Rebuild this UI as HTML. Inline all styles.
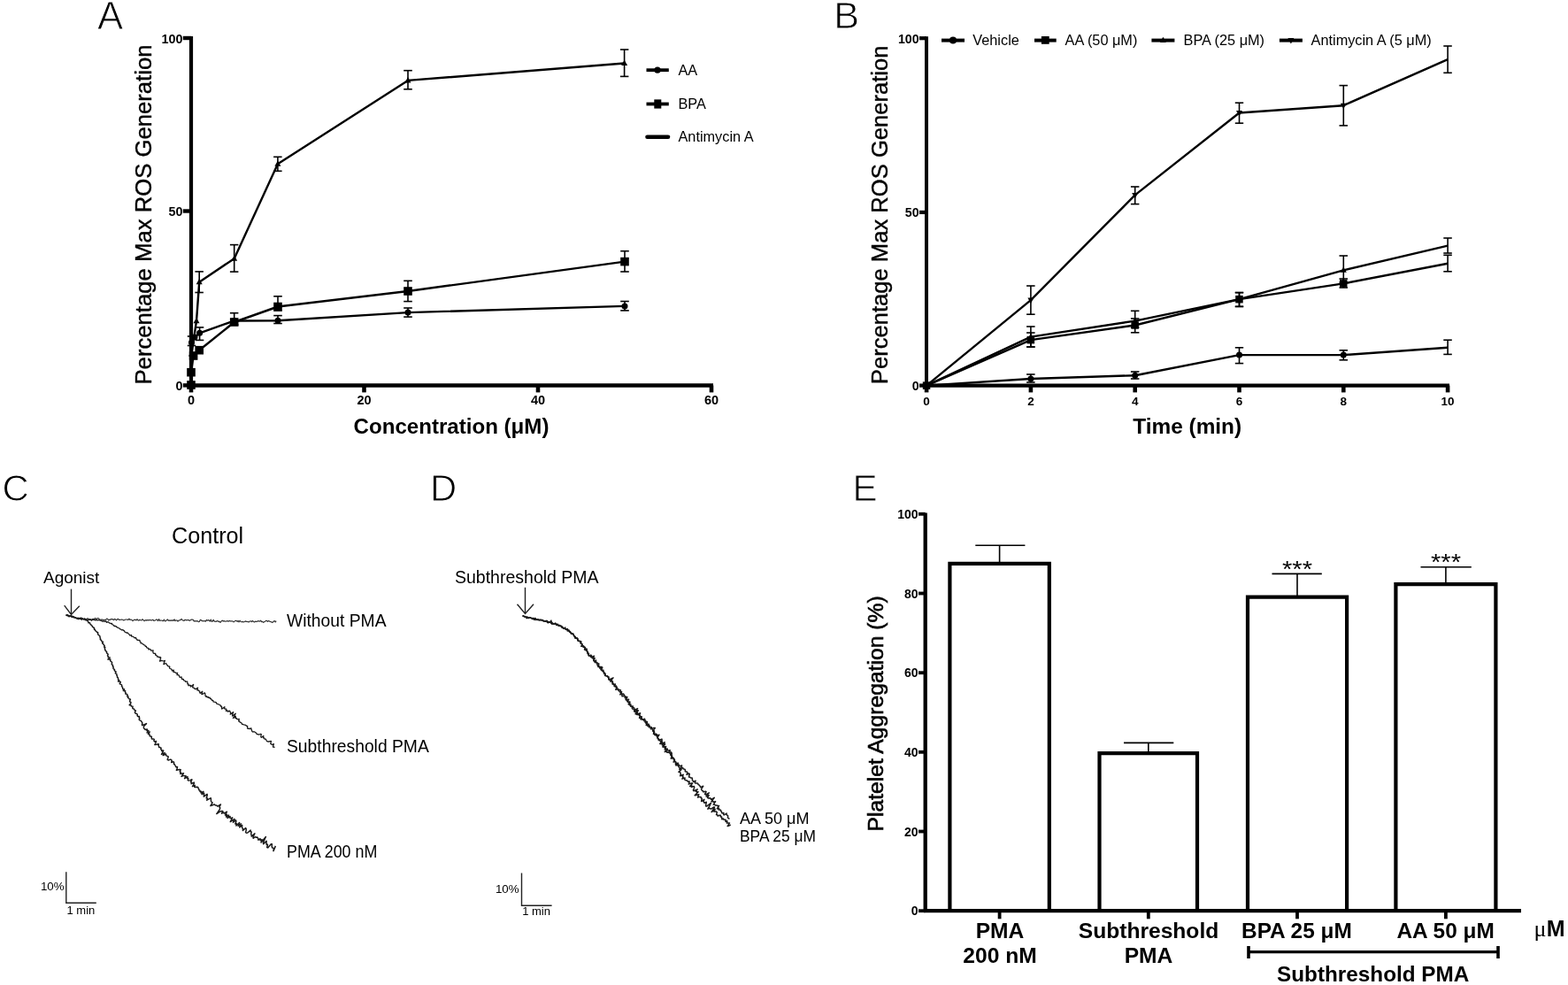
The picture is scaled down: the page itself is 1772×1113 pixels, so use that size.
<!DOCTYPE html>
<html><head><meta charset="utf-8"><title>Figure</title>
<style>html,body{margin:0;padding:0;background:#fff;width:1772px;height:1113px;overflow:hidden}svg{display:block}text{fill:#000}</style>
</head><body>
<svg width="1772" height="1113" viewBox="0 0 1772 1113"><text x="110" y="32.5" font-family="'Liberation Sans', Arial, Helvetica, sans-serif" font-size="43.8" font-weight="normal" text-anchor="start" stroke="#fff" stroke-width="0.9">A</text>
<line x1="216" y1="41" x2="216" y2="437.5" stroke="#000" stroke-width="4.2" stroke-linecap="butt"/>
<line x1="206.8" y1="43" x2="216" y2="43" stroke="#000" stroke-width="4.4" stroke-linecap="butt"/>
<line x1="206.8" y1="238.5" x2="216" y2="238.5" stroke="#000" stroke-width="4.4" stroke-linecap="butt"/>
<line x1="206.8" y1="435.4" x2="216" y2="435.4" stroke="#000" stroke-width="4.4" stroke-linecap="butt"/>
<line x1="214" y1="435.5" x2="806" y2="435.5" stroke="#000" stroke-width="4.4" stroke-linecap="butt"/>
<line x1="216" y1="435.5" x2="216" y2="443.4" stroke="#000" stroke-width="4.6" stroke-linecap="butt"/>
<line x1="411.5" y1="435.5" x2="411.5" y2="443.4" stroke="#000" stroke-width="4.6" stroke-linecap="butt"/>
<line x1="608" y1="435.5" x2="608" y2="443.4" stroke="#000" stroke-width="4.6" stroke-linecap="butt"/>
<line x1="804" y1="435.5" x2="804" y2="443.4" stroke="#000" stroke-width="4.6" stroke-linecap="butt"/>
<text x="206.5" y="48.8" font-family="'Liberation Sans', Arial, Helvetica, sans-serif" font-size="14.4" font-weight="bold" text-anchor="end">100</text>
<text x="206.5" y="244.3" font-family="'Liberation Sans', Arial, Helvetica, sans-serif" font-size="14.4" font-weight="bold" text-anchor="end">50</text>
<text x="206.5" y="441.2" font-family="'Liberation Sans', Arial, Helvetica, sans-serif" font-size="14.4" font-weight="bold" text-anchor="end">0</text>
<text x="216" y="456.9" font-family="'Liberation Sans', Arial, Helvetica, sans-serif" font-size="14.5" font-weight="bold" text-anchor="middle">0</text>
<text x="411.5" y="456.9" font-family="'Liberation Sans', Arial, Helvetica, sans-serif" font-size="14.5" font-weight="bold" text-anchor="middle">20</text>
<text x="608" y="456.9" font-family="'Liberation Sans', Arial, Helvetica, sans-serif" font-size="14.5" font-weight="bold" text-anchor="middle">40</text>
<text x="804" y="456.9" font-family="'Liberation Sans', Arial, Helvetica, sans-serif" font-size="14.5" font-weight="bold" text-anchor="middle">60</text>
<text x="510" y="489.8" font-family="'Liberation Sans', Arial, Helvetica, sans-serif" font-size="24.1" font-weight="bold" text-anchor="middle">Concentration (&#956;M)</text>
<text x="171.2" y="242.5" font-family="'Liberation Sans', Arial, Helvetica, sans-serif" font-size="25.7" font-weight="normal" text-anchor="middle" transform="rotate(-90 171.2 242.5)" stroke="#000" stroke-width="0.4">Percentage Max ROS Generation</text>
<polyline points="216,435 216.5,400 222,362.8 225.2,318.8 264.7,292.2 313.9,185.2 461,90.9 705.6,71.5" fill="none" stroke="#000" stroke-width="2.4" stroke-linejoin="round"/>
<polyline points="216,435 216,420.7 218.6,402 225.2,395.7 264.7,364 314,346.5 461,329 706,295.6" fill="none" stroke="#000" stroke-width="2.4" stroke-linejoin="round"/>
<polyline points="216,435 216.5,387 220,381 225.6,376.3 264.7,362.5 314,362.3 461,353.1 706,345.9" fill="none" stroke="#000" stroke-width="2.4" stroke-linejoin="round"/>
<line x1="225.2" y1="306.9" x2="225.2" y2="330.5" stroke="#000" stroke-width="1.6" stroke-linecap="butt"/>
<line x1="220.4" y1="306.9" x2="229.9" y2="306.9" stroke="#000" stroke-width="1.6" stroke-linecap="butt"/>
<line x1="220.4" y1="330.5" x2="229.9" y2="330.5" stroke="#000" stroke-width="1.6" stroke-linecap="butt"/>
<line x1="264.7" y1="276.6" x2="264.7" y2="307.1" stroke="#000" stroke-width="1.6" stroke-linecap="butt"/>
<line x1="259.9" y1="276.6" x2="269.4" y2="276.6" stroke="#000" stroke-width="1.6" stroke-linecap="butt"/>
<line x1="259.9" y1="307.1" x2="269.4" y2="307.1" stroke="#000" stroke-width="1.6" stroke-linecap="butt"/>
<line x1="313.9" y1="177.3" x2="313.9" y2="193.3" stroke="#000" stroke-width="1.6" stroke-linecap="butt"/>
<line x1="309.1" y1="177.3" x2="318.6" y2="177.3" stroke="#000" stroke-width="1.6" stroke-linecap="butt"/>
<line x1="309.1" y1="193.3" x2="318.6" y2="193.3" stroke="#000" stroke-width="1.6" stroke-linecap="butt"/>
<line x1="461" y1="79.7" x2="461" y2="100.8" stroke="#000" stroke-width="1.6" stroke-linecap="butt"/>
<line x1="456.2" y1="79.7" x2="465.8" y2="79.7" stroke="#000" stroke-width="1.6" stroke-linecap="butt"/>
<line x1="456.2" y1="100.8" x2="465.8" y2="100.8" stroke="#000" stroke-width="1.6" stroke-linecap="butt"/>
<line x1="705.6" y1="56" x2="705.6" y2="86.4" stroke="#000" stroke-width="1.6" stroke-linecap="butt"/>
<line x1="700.9" y1="56" x2="710.4" y2="56" stroke="#000" stroke-width="1.6" stroke-linecap="butt"/>
<line x1="700.9" y1="86.4" x2="710.4" y2="86.4" stroke="#000" stroke-width="1.6" stroke-linecap="butt"/>
<line x1="264.7" y1="353.7" x2="264.7" y2="367" stroke="#000" stroke-width="1.6" stroke-linecap="butt"/>
<line x1="259.9" y1="353.7" x2="269.4" y2="353.7" stroke="#000" stroke-width="1.6" stroke-linecap="butt"/>
<line x1="259.9" y1="367" x2="269.4" y2="367" stroke="#000" stroke-width="1.6" stroke-linecap="butt"/>
<line x1="314" y1="334.8" x2="314" y2="351" stroke="#000" stroke-width="1.6" stroke-linecap="butt"/>
<line x1="309.2" y1="334.8" x2="318.8" y2="334.8" stroke="#000" stroke-width="1.6" stroke-linecap="butt"/>
<line x1="309.2" y1="351" x2="318.8" y2="351" stroke="#000" stroke-width="1.6" stroke-linecap="butt"/>
<line x1="461" y1="317.3" x2="461" y2="340.6" stroke="#000" stroke-width="1.6" stroke-linecap="butt"/>
<line x1="456.2" y1="317.3" x2="465.8" y2="317.3" stroke="#000" stroke-width="1.6" stroke-linecap="butt"/>
<line x1="456.2" y1="340.6" x2="465.8" y2="340.6" stroke="#000" stroke-width="1.6" stroke-linecap="butt"/>
<line x1="706" y1="283.7" x2="706" y2="307" stroke="#000" stroke-width="1.6" stroke-linecap="butt"/>
<line x1="701.2" y1="283.7" x2="710.8" y2="283.7" stroke="#000" stroke-width="1.6" stroke-linecap="butt"/>
<line x1="701.2" y1="307" x2="710.8" y2="307" stroke="#000" stroke-width="1.6" stroke-linecap="butt"/>
<line x1="216.5" y1="380" x2="216.5" y2="390.5" stroke="#000" stroke-width="1.6" stroke-linecap="butt"/>
<line x1="211.8" y1="380" x2="221.2" y2="380" stroke="#000" stroke-width="1.6" stroke-linecap="butt"/>
<line x1="211.8" y1="390.5" x2="221.2" y2="390.5" stroke="#000" stroke-width="1.6" stroke-linecap="butt"/>
<line x1="225.6" y1="369.9" x2="225.6" y2="384.4" stroke="#000" stroke-width="1.6" stroke-linecap="butt"/>
<line x1="220.8" y1="369.9" x2="230.3" y2="369.9" stroke="#000" stroke-width="1.6" stroke-linecap="butt"/>
<line x1="220.8" y1="384.4" x2="230.3" y2="384.4" stroke="#000" stroke-width="1.6" stroke-linecap="butt"/>
<line x1="314" y1="356.6" x2="314" y2="365.5" stroke="#000" stroke-width="1.6" stroke-linecap="butt"/>
<line x1="309.2" y1="356.6" x2="318.8" y2="356.6" stroke="#000" stroke-width="1.6" stroke-linecap="butt"/>
<line x1="309.2" y1="365.5" x2="318.8" y2="365.5" stroke="#000" stroke-width="1.6" stroke-linecap="butt"/>
<line x1="461" y1="348" x2="461" y2="358.1" stroke="#000" stroke-width="1.6" stroke-linecap="butt"/>
<line x1="456.2" y1="348" x2="465.8" y2="348" stroke="#000" stroke-width="1.6" stroke-linecap="butt"/>
<line x1="456.2" y1="358.1" x2="465.8" y2="358.1" stroke="#000" stroke-width="1.6" stroke-linecap="butt"/>
<line x1="706" y1="340.5" x2="706" y2="350.9" stroke="#000" stroke-width="1.6" stroke-linecap="butt"/>
<line x1="701.2" y1="340.5" x2="710.8" y2="340.5" stroke="#000" stroke-width="1.6" stroke-linecap="butt"/>
<line x1="701.2" y1="350.9" x2="710.8" y2="350.9" stroke="#000" stroke-width="1.6" stroke-linecap="butt"/>
<rect x="211.2" y="430.2" width="9.6" height="9.6" fill="#000"/>
<rect x="211.2" y="415.9" width="9.6" height="9.6" fill="#000"/>
<rect x="213.8" y="397.2" width="9.6" height="9.6" fill="#000"/>
<rect x="220.4" y="390.9" width="9.6" height="9.6" fill="#000"/>
<rect x="259.9" y="359.2" width="9.6" height="9.6" fill="#000"/>
<rect x="309.2" y="341.7" width="9.6" height="9.6" fill="#000"/>
<rect x="456.2" y="324.2" width="9.6" height="9.6" fill="#000"/>
<rect x="701.2" y="290.8" width="9.6" height="9.6" fill="#000"/>
<circle cx="216" cy="435" r="3.5" fill="#000"/>
<circle cx="216.5" cy="387" r="3.5" fill="#000"/>
<circle cx="220" cy="381" r="3.5" fill="#000"/>
<circle cx="225.6" cy="376.3" r="3.5" fill="#000"/>
<circle cx="264.7" cy="362.5" r="3.5" fill="#000"/>
<circle cx="314" cy="362.3" r="3.5" fill="#000"/>
<circle cx="461" cy="353.1" r="3.5" fill="#000"/>
<circle cx="706" cy="345.9" r="3.5" fill="#000"/>
<polygon points="216,431.2 212.5,437.5 219.5,437.5" fill="#000"/>
<polygon points="216.5,396.2 213,402.5 220,402.5" fill="#000"/>
<polygon points="222,359 218.5,365.3 225.5,365.3" fill="#000"/>
<polygon points="225.2,315 221.7,321.3 228.7,321.3" fill="#000"/>
<polygon points="264.7,288.4 261.2,294.7 268.2,294.7" fill="#000"/>
<polygon points="313.9,181.4 310.4,187.7 317.4,187.7" fill="#000"/>
<polygon points="461,87.1 457.5,93.4 464.5,93.4" fill="#000"/>
<polygon points="705.6,67.7 702.1,74 709.1,74" fill="#000"/>
<line x1="730.5" y1="79.2" x2="755.8" y2="79.2" stroke="#000" stroke-width="3.8" stroke-linecap="butt"/>
<circle cx="743" cy="79.2" r="3.6" fill="#000"/>
<text x="766.5" y="84.8" font-family="'Liberation Sans', Arial, Helvetica, sans-serif" font-size="16.3" font-weight="normal" text-anchor="start">AA</text>
<line x1="730.5" y1="117.5" x2="755.8" y2="117.5" stroke="#000" stroke-width="3.8" stroke-linecap="butt"/>
<rect x="739.3" y="112.4" width="8" height="10.2" fill="#000"/>
<text x="766.5" y="123.1" font-family="'Liberation Sans', Arial, Helvetica, sans-serif" font-size="16.3" font-weight="normal" text-anchor="start">BPA</text>
<line x1="731.5" y1="154.7" x2="755" y2="154.7" stroke="#000" stroke-width="4.6" stroke-linecap="round"/>
<text x="766.5" y="160.3" font-family="'Liberation Sans', Arial, Helvetica, sans-serif" font-size="16.3" font-weight="normal" text-anchor="start">Antimycin A</text>
<text x="942.2" y="32.3" font-family="'Liberation Sans', Arial, Helvetica, sans-serif" font-size="43.3" font-weight="normal" text-anchor="start" stroke="#fff" stroke-width="0.9">B</text>
<line x1="1047" y1="41.3" x2="1047" y2="437.5" stroke="#000" stroke-width="4" stroke-linecap="butt"/>
<line x1="1039" y1="43.2" x2="1047" y2="43.2" stroke="#000" stroke-width="4.2" stroke-linecap="butt"/>
<line x1="1039" y1="239.9" x2="1047" y2="239.9" stroke="#000" stroke-width="4.2" stroke-linecap="butt"/>
<line x1="1039" y1="435.6" x2="1047" y2="435.6" stroke="#000" stroke-width="4.2" stroke-linecap="butt"/>
<line x1="1045" y1="435.6" x2="1638" y2="435.6" stroke="#000" stroke-width="4.4" stroke-linecap="butt"/>
<line x1="1047.1" y1="435.6" x2="1047.1" y2="443.4" stroke="#000" stroke-width="4.6" stroke-linecap="butt"/>
<text x="1047.1" y="457.5" font-family="'Liberation Sans', Arial, Helvetica, sans-serif" font-size="13.5" font-weight="bold" text-anchor="middle">0</text>
<line x1="1164.9" y1="435.6" x2="1164.9" y2="443.4" stroke="#000" stroke-width="4.6" stroke-linecap="butt"/>
<text x="1164.9" y="457.5" font-family="'Liberation Sans', Arial, Helvetica, sans-serif" font-size="13.5" font-weight="bold" text-anchor="middle">2</text>
<line x1="1282.7" y1="435.6" x2="1282.7" y2="443.4" stroke="#000" stroke-width="4.6" stroke-linecap="butt"/>
<text x="1282.7" y="457.5" font-family="'Liberation Sans', Arial, Helvetica, sans-serif" font-size="13.5" font-weight="bold" text-anchor="middle">4</text>
<line x1="1400.5" y1="435.6" x2="1400.5" y2="443.4" stroke="#000" stroke-width="4.6" stroke-linecap="butt"/>
<text x="1400.5" y="457.5" font-family="'Liberation Sans', Arial, Helvetica, sans-serif" font-size="13.5" font-weight="bold" text-anchor="middle">6</text>
<line x1="1518.3" y1="435.6" x2="1518.3" y2="443.4" stroke="#000" stroke-width="4.6" stroke-linecap="butt"/>
<text x="1518.3" y="457.5" font-family="'Liberation Sans', Arial, Helvetica, sans-serif" font-size="13.5" font-weight="bold" text-anchor="middle">8</text>
<line x1="1636.1" y1="435.6" x2="1636.1" y2="443.4" stroke="#000" stroke-width="4.6" stroke-linecap="butt"/>
<text x="1636.1" y="457.5" font-family="'Liberation Sans', Arial, Helvetica, sans-serif" font-size="13.5" font-weight="bold" text-anchor="middle">10</text>
<text x="1038.6" y="48.5" font-family="'Liberation Sans', Arial, Helvetica, sans-serif" font-size="14.2" font-weight="bold" text-anchor="end">100</text>
<text x="1038.6" y="245.2" font-family="'Liberation Sans', Arial, Helvetica, sans-serif" font-size="14.2" font-weight="bold" text-anchor="end">50</text>
<text x="1038.6" y="440.9" font-family="'Liberation Sans', Arial, Helvetica, sans-serif" font-size="14.2" font-weight="bold" text-anchor="end">0</text>
<text x="1341.7" y="489.6" font-family="'Liberation Sans', Arial, Helvetica, sans-serif" font-size="24.4" font-weight="bold" text-anchor="middle">Time (min)</text>
<text x="1003.4" y="242.8" font-family="'Liberation Sans', Arial, Helvetica, sans-serif" font-size="25.6" font-weight="normal" text-anchor="middle" transform="rotate(-90 1003.4 242.8)" stroke="#000" stroke-width="0.4">Percentage Max ROS Generation</text>
<polyline points="1047.1,435.6 1164.9,339.1 1282.7,220.4 1400.5,127.5 1518.3,119.2 1636.1,67.2" fill="none" stroke="#000" stroke-width="2.4" stroke-linejoin="round"/>
<polyline points="1047.1,435.6 1164.9,380.6 1282.7,362.6 1400.5,338.1 1518.3,305.3 1636.1,277.7" fill="none" stroke="#000" stroke-width="2.4" stroke-linejoin="round"/>
<polyline points="1047.1,435.6 1164.9,384.1 1282.7,367.5 1400.5,338.1 1518.3,320.4 1636.1,297.7" fill="none" stroke="#000" stroke-width="2.4" stroke-linejoin="round"/>
<polyline points="1047.1,435.6 1164.9,428 1282.7,424.2 1400.5,401.1 1518.3,401.1 1636.1,392.8" fill="none" stroke="#000" stroke-width="2.4" stroke-linejoin="round"/>
<line x1="1164.9" y1="323" x2="1164.9" y2="355.2" stroke="#000" stroke-width="1.6" stroke-linecap="butt"/>
<line x1="1160.1" y1="323" x2="1169.6" y2="323" stroke="#000" stroke-width="1.6" stroke-linecap="butt"/>
<line x1="1160.1" y1="355.2" x2="1169.6" y2="355.2" stroke="#000" stroke-width="1.6" stroke-linecap="butt"/>
<line x1="1282.7" y1="211" x2="1282.7" y2="230.6" stroke="#000" stroke-width="1.6" stroke-linecap="butt"/>
<line x1="1277.9" y1="211" x2="1287.4" y2="211" stroke="#000" stroke-width="1.6" stroke-linecap="butt"/>
<line x1="1277.9" y1="230.6" x2="1287.4" y2="230.6" stroke="#000" stroke-width="1.6" stroke-linecap="butt"/>
<line x1="1400.5" y1="116.2" x2="1400.5" y2="139.2" stroke="#000" stroke-width="1.6" stroke-linecap="butt"/>
<line x1="1395.8" y1="116.2" x2="1405.2" y2="116.2" stroke="#000" stroke-width="1.6" stroke-linecap="butt"/>
<line x1="1395.8" y1="139.2" x2="1405.2" y2="139.2" stroke="#000" stroke-width="1.6" stroke-linecap="butt"/>
<line x1="1518.3" y1="96.6" x2="1518.3" y2="141.9" stroke="#000" stroke-width="1.6" stroke-linecap="butt"/>
<line x1="1513.5" y1="96.6" x2="1523" y2="96.6" stroke="#000" stroke-width="1.6" stroke-linecap="butt"/>
<line x1="1513.5" y1="141.9" x2="1523" y2="141.9" stroke="#000" stroke-width="1.6" stroke-linecap="butt"/>
<line x1="1636.1" y1="52" x2="1636.1" y2="82.3" stroke="#000" stroke-width="1.6" stroke-linecap="butt"/>
<line x1="1631.3" y1="52" x2="1640.8" y2="52" stroke="#000" stroke-width="1.6" stroke-linecap="butt"/>
<line x1="1631.3" y1="82.3" x2="1640.8" y2="82.3" stroke="#000" stroke-width="1.6" stroke-linecap="butt"/>
<line x1="1164.9" y1="369" x2="1164.9" y2="392" stroke="#000" stroke-width="1.6" stroke-linecap="butt"/>
<line x1="1160.1" y1="369" x2="1169.6" y2="369" stroke="#000" stroke-width="1.6" stroke-linecap="butt"/>
<line x1="1160.1" y1="392" x2="1169.6" y2="392" stroke="#000" stroke-width="1.6" stroke-linecap="butt"/>
<line x1="1282.7" y1="351.3" x2="1282.7" y2="370" stroke="#000" stroke-width="1.6" stroke-linecap="butt"/>
<line x1="1277.9" y1="351.3" x2="1287.4" y2="351.3" stroke="#000" stroke-width="1.6" stroke-linecap="butt"/>
<line x1="1277.9" y1="370" x2="1287.4" y2="370" stroke="#000" stroke-width="1.6" stroke-linecap="butt"/>
<line x1="1400.5" y1="330.6" x2="1400.5" y2="346.4" stroke="#000" stroke-width="1.6" stroke-linecap="butt"/>
<line x1="1395.8" y1="330.6" x2="1405.2" y2="330.6" stroke="#000" stroke-width="1.6" stroke-linecap="butt"/>
<line x1="1395.8" y1="346.4" x2="1405.2" y2="346.4" stroke="#000" stroke-width="1.6" stroke-linecap="butt"/>
<line x1="1518.3" y1="289" x2="1518.3" y2="319" stroke="#000" stroke-width="1.6" stroke-linecap="butt"/>
<line x1="1513.5" y1="289" x2="1523" y2="289" stroke="#000" stroke-width="1.6" stroke-linecap="butt"/>
<line x1="1513.5" y1="319" x2="1523" y2="319" stroke="#000" stroke-width="1.6" stroke-linecap="butt"/>
<line x1="1636.1" y1="269" x2="1636.1" y2="286" stroke="#000" stroke-width="1.6" stroke-linecap="butt"/>
<line x1="1631.3" y1="269" x2="1640.8" y2="269" stroke="#000" stroke-width="1.6" stroke-linecap="butt"/>
<line x1="1631.3" y1="286" x2="1640.8" y2="286" stroke="#000" stroke-width="1.6" stroke-linecap="butt"/>
<line x1="1164.9" y1="376" x2="1164.9" y2="392" stroke="#000" stroke-width="1.6" stroke-linecap="butt"/>
<line x1="1160.1" y1="376" x2="1169.6" y2="376" stroke="#000" stroke-width="1.6" stroke-linecap="butt"/>
<line x1="1160.1" y1="392" x2="1169.6" y2="392" stroke="#000" stroke-width="1.6" stroke-linecap="butt"/>
<line x1="1282.7" y1="360" x2="1282.7" y2="375.8" stroke="#000" stroke-width="1.6" stroke-linecap="butt"/>
<line x1="1277.9" y1="360" x2="1287.4" y2="360" stroke="#000" stroke-width="1.6" stroke-linecap="butt"/>
<line x1="1277.9" y1="375.8" x2="1287.4" y2="375.8" stroke="#000" stroke-width="1.6" stroke-linecap="butt"/>
<line x1="1400.5" y1="330.6" x2="1400.5" y2="346.4" stroke="#000" stroke-width="1.6" stroke-linecap="butt"/>
<line x1="1395.8" y1="330.6" x2="1405.2" y2="330.6" stroke="#000" stroke-width="1.6" stroke-linecap="butt"/>
<line x1="1395.8" y1="346.4" x2="1405.2" y2="346.4" stroke="#000" stroke-width="1.6" stroke-linecap="butt"/>
<line x1="1518.3" y1="315" x2="1518.3" y2="325" stroke="#000" stroke-width="1.6" stroke-linecap="butt"/>
<line x1="1513.5" y1="315" x2="1523" y2="315" stroke="#000" stroke-width="1.6" stroke-linecap="butt"/>
<line x1="1513.5" y1="325" x2="1523" y2="325" stroke="#000" stroke-width="1.6" stroke-linecap="butt"/>
<line x1="1636.1" y1="288.3" x2="1636.1" y2="306.8" stroke="#000" stroke-width="1.6" stroke-linecap="butt"/>
<line x1="1631.3" y1="288.3" x2="1640.8" y2="288.3" stroke="#000" stroke-width="1.6" stroke-linecap="butt"/>
<line x1="1631.3" y1="306.8" x2="1640.8" y2="306.8" stroke="#000" stroke-width="1.6" stroke-linecap="butt"/>
<line x1="1164.9" y1="423" x2="1164.9" y2="432" stroke="#000" stroke-width="1.6" stroke-linecap="butt"/>
<line x1="1160.1" y1="423" x2="1169.6" y2="423" stroke="#000" stroke-width="1.6" stroke-linecap="butt"/>
<line x1="1160.1" y1="432" x2="1169.6" y2="432" stroke="#000" stroke-width="1.6" stroke-linecap="butt"/>
<line x1="1282.7" y1="420" x2="1282.7" y2="428" stroke="#000" stroke-width="1.6" stroke-linecap="butt"/>
<line x1="1277.9" y1="420" x2="1287.4" y2="420" stroke="#000" stroke-width="1.6" stroke-linecap="butt"/>
<line x1="1277.9" y1="428" x2="1287.4" y2="428" stroke="#000" stroke-width="1.6" stroke-linecap="butt"/>
<line x1="1400.5" y1="392.8" x2="1400.5" y2="410.6" stroke="#000" stroke-width="1.6" stroke-linecap="butt"/>
<line x1="1395.8" y1="392.8" x2="1405.2" y2="392.8" stroke="#000" stroke-width="1.6" stroke-linecap="butt"/>
<line x1="1395.8" y1="410.6" x2="1405.2" y2="410.6" stroke="#000" stroke-width="1.6" stroke-linecap="butt"/>
<line x1="1518.3" y1="395.8" x2="1518.3" y2="406.8" stroke="#000" stroke-width="1.6" stroke-linecap="butt"/>
<line x1="1513.5" y1="395.8" x2="1523" y2="395.8" stroke="#000" stroke-width="1.6" stroke-linecap="butt"/>
<line x1="1513.5" y1="406.8" x2="1523" y2="406.8" stroke="#000" stroke-width="1.6" stroke-linecap="butt"/>
<line x1="1636.1" y1="384.2" x2="1636.1" y2="400.4" stroke="#000" stroke-width="1.6" stroke-linecap="butt"/>
<line x1="1631.3" y1="384.2" x2="1640.8" y2="384.2" stroke="#000" stroke-width="1.6" stroke-linecap="butt"/>
<line x1="1631.3" y1="400.4" x2="1640.8" y2="400.4" stroke="#000" stroke-width="1.6" stroke-linecap="butt"/>
<rect x="1042.8" y="431.4" width="8.5" height="8.5" fill="#000"/>
<rect x="1160.6" y="379.9" width="8.5" height="8.5" fill="#000"/>
<rect x="1278.4" y="363.2" width="8.5" height="8.5" fill="#000"/>
<rect x="1396.2" y="333.9" width="8.5" height="8.5" fill="#000"/>
<rect x="1514" y="316.1" width="8.5" height="8.5" fill="#000"/>
<circle cx="1047.1" cy="435.6" r="3.5" fill="#000"/>
<circle cx="1164.9" cy="428" r="3.5" fill="#000"/>
<circle cx="1282.7" cy="424.2" r="3.5" fill="#000"/>
<circle cx="1400.5" cy="401.1" r="3.5" fill="#000"/>
<circle cx="1518.3" cy="401.1" r="3.5" fill="#000"/>
<polygon points="1047.1,431.8 1043.6,438.1 1050.6,438.1" fill="#000"/>
<polygon points="1164.9,376.8 1161.4,383.1 1168.4,383.1" fill="#000"/>
<polygon points="1282.7,358.8 1279.2,365.1 1286.2,365.1" fill="#000"/>
<polygon points="1400.5,334.3 1397,340.6 1404,340.6" fill="#000"/>
<polygon points="1518.3,301.5 1514.8,307.8 1521.8,307.8" fill="#000"/>
<polygon points="1047.1,439.4 1043.6,433.1 1050.6,433.1" fill="#000"/>
<polygon points="1164.9,342.9 1161.4,336.6 1168.4,336.6" fill="#000"/>
<polygon points="1282.7,224.2 1279.2,217.9 1286.2,217.9" fill="#000"/>
<polygon points="1400.5,131.3 1397,125 1404,125" fill="#000"/>
<polygon points="1518.3,123 1514.8,116.7 1521.8,116.7" fill="#000"/>
<line x1="1064" y1="45.6" x2="1090" y2="45.6" stroke="#000" stroke-width="4" stroke-linecap="butt"/>
<circle cx="1077" cy="45.6" r="4" fill="#000"/>
<text x="1099.3" y="50.9" font-family="'Liberation Sans', Arial, Helvetica, sans-serif" font-size="16.3" font-weight="normal" text-anchor="start">Vehicle</text>
<line x1="1169" y1="45.6" x2="1193.7" y2="45.6" stroke="#000" stroke-width="4" stroke-linecap="butt"/>
<rect x="1176.9" y="41" width="8.8" height="8.8" fill="#000"/>
<text x="1203.6" y="50.9" font-family="'Liberation Sans', Arial, Helvetica, sans-serif" font-size="16.3" font-weight="normal" text-anchor="start">AA (50 &#956;M)</text>
<line x1="1301.4" y1="45.6" x2="1327.4" y2="45.6" stroke="#000" stroke-width="4" stroke-linecap="butt"/>
<polygon points="1314.4,41.8 1310.9,48.1 1317.9,48.1" fill="#000"/>
<text x="1337.6" y="50.9" font-family="'Liberation Sans', Arial, Helvetica, sans-serif" font-size="16.3" font-weight="normal" text-anchor="start">BPA (25 &#956;M)</text>
<line x1="1445.9" y1="45.6" x2="1471.9" y2="45.6" stroke="#000" stroke-width="4" stroke-linecap="butt"/>
<polygon points="1458.9,49.4 1455.4,43.1 1462.4,43.1" fill="#000"/>
<text x="1481.6" y="50.9" font-family="'Liberation Sans', Arial, Helvetica, sans-serif" font-size="16.3" font-weight="normal" text-anchor="start">Antimycin A (5 &#956;M)</text>
<text x="2.5" y="566.4" font-family="'Liberation Sans', Arial, Helvetica, sans-serif" font-size="41.8" font-weight="normal" text-anchor="start" stroke="#fff" stroke-width="0.9">C</text>
<text x="234.6" y="614.1" font-family="'Liberation Sans', Arial, Helvetica, sans-serif" font-size="25.2" font-weight="normal" text-anchor="middle">Control</text>
<text x="49" y="659" font-family="'Liberation Sans', Arial, Helvetica, sans-serif" font-size="19" font-weight="normal" text-anchor="start">Agonist</text>
<line x1="80.5" y1="665.6" x2="80.5" y2="694" stroke="#222" stroke-width="1.4" stroke-linecap="butt"/>
<polyline points="72.7,684.1 80.5,694.4 89.8,684.8" fill="none" stroke="#222" stroke-width="1.4"/>
<polyline points="74.6,694.8 75.3,695.7 76.7,694.6 77.3,695.6 77.9,697.0 79.1,696.6 80.7,695.1 81.0,697.4 82.3,696.3 83.3,696.6 84.0,697.9 85.0,698.0 85.9,698.5 86.8,698.9 87.8,699.2 88.7,699.8 89.8,698.9 90.8,699.2 91.7,699.1 92.7,698.9 93.7,699.0 94.6,699.7 95.6,699.6 96.6,700.3 97.6,699.6 98.6,698.9 99.6,698.9 100.6,700.2 101.6,700.5 102.6,699.9 103.6,700.1 104.6,699.4 105.6,699.3 106.6,699.5 107.7,698.4 108.6,700.0 109.7,698.8 110.7,698.5 111.7,698.8 112.6,700.5 113.6,700.2 114.6,700.2 115.6,700.2 116.6,700.3 117.6,700.5 118.6,700.3 119.6,700.5 120.6,699.0 121.6,699.3 122.6,700.9 123.6,700.2 124.6,700.4 125.6,699.4 126.6,699.8 127.6,699.6 128.6,700.6 129.6,699.3 130.6,700.0 131.6,700.9 132.6,699.6 133.6,699.4 134.7,700.5 135.7,700.3 136.7,700.2 137.7,700.0 138.7,700.3 139.8,701.0 140.8,700.5 141.8,700.0 142.8,700.0 143.9,700.1 144.9,700.5 145.9,699.1 146.9,700.5 148.0,700.0 149.0,700.6 150.0,701.6 151.0,700.7 152.0,700.2 153.0,700.3 154.0,700.9 155.0,699.7 156.0,700.9 157.0,701.2 158.0,700.2 159.0,700.8 160.0,701.0 161.0,699.7 162.0,700.6 163.0,701.7 164.0,700.9 165.0,700.6 166.0,701.1 167.0,700.4 168.0,701.1 168.9,700.4 169.9,700.7 170.9,700.9 171.8,700.9 172.8,700.1 173.8,701.3 174.8,701.1 175.7,700.7 176.7,700.0 177.7,700.2 178.6,701.6 179.6,699.6 180.6,701.5 181.6,701.0 182.5,701.0 183.5,701.4 184.5,701.6 185.4,700.1 186.4,701.8 187.4,701.6 188.4,700.7 189.3,699.8 190.3,701.3 191.3,700.9 192.2,701.4 193.2,700.8 194.2,701.5 195.2,700.6 196.1,701.4 197.1,699.9 198.1,701.6 199.0,700.9 200.0,701.0 201.0,702.0 202.0,701.0 203.0,700.9 204.1,700.4 205.1,699.4 206.1,700.7 207.1,701.1 208.1,701.5 209.1,700.2 210.1,700.8 211.2,700.6 212.2,700.7 213.2,700.5 214.2,701.4 215.2,700.8 216.2,700.1 217.2,700.0 218.3,700.3 219.2,702.0 220.3,701.6 221.3,702.0 222.3,701.6 223.3,701.8 224.3,702.6 225.3,702.4 226.4,700.3 227.4,700.8 228.4,701.7 229.4,701.6 230.4,701.8 231.4,701.5 232.4,702.2 233.4,700.4 234.4,701.2 235.4,700.6 236.3,701.0 237.3,702.1 238.3,700.0 239.3,702.4 240.2,701.9 241.2,700.4 242.2,702.1 243.2,702.2 244.1,702.5 245.1,701.7 246.1,701.7 247.1,702.7 248.0,702.1 249.0,703.3 250.0,702.1 251.0,701.1 252.0,701.8 253.0,701.6 254.0,701.9 255.0,702.1 256.0,701.9 257.0,701.5 258.0,702.2 259.1,701.4 260.1,701.8 261.1,701.8 262.1,701.9 263.1,702.0 264.1,702.9 265.1,702.1 266.1,701.3 267.1,701.4 268.1,702.3 269.1,701.3 270.1,702.8 271.1,701.2 272.1,702.5 273.1,702.8 274.2,702.4 275.2,702.9 276.2,702.5 277.2,701.9 278.3,702.4 279.3,702.4 280.3,702.6 281.3,702.8 282.3,702.0 283.4,701.8 284.4,702.6 285.4,701.5 286.4,702.3 287.4,703.0 288.5,702.2 289.5,702.3 290.5,702.3 291.5,701.7 292.6,701.9 293.6,702.1 294.6,701.2 295.6,702.6 296.6,702.3 297.6,703.4 298.5,702.7 299.5,702.2 300.5,701.4 301.5,701.4 302.4,702.4 303.4,701.5 304.4,701.9 305.4,702.5 306.3,702.6 307.3,703.3 308.3,703.2 309.3,702.0 310.3,701.5 311.2,702.9 312.2,701.7" fill="none" stroke="#333" stroke-width="1.2" stroke-linejoin="round"/>
<polyline points="74.6,694.9 75.5,695.1 76.3,695.6 77.3,695.8 78.3,696.0 79.4,695.8 80.3,696.3 81.1,697.0 82.1,697.1 83.1,697.4 84.0,697.7 85.1,697.6 86.0,698.4 87.0,698.5 88.1,698.5 89.1,698.6 90.2,698.8 91.2,699.1 92.2,700.3 93.4,699.3 94.5,699.8 95.7,698.9 96.6,699.8 97.5,700.4 98.5,700.0 99.4,700.3 100.4,700.1 101.4,699.7 102.4,700.1 103.3,701.2 104.4,700.5 105.4,700.2 106.4,700.5 107.4,700.6 108.4,700.9 109.4,700.5 110.4,701.0 111.4,700.5 112.4,700.6 113.2,701.2 114.3,701.0 115.1,701.8 116.0,702.0 117.0,702.0 118.0,701.8 118.8,702.4 120.0,701.9 120.5,703.4 121.8,702.7 122.7,703.0 123.4,703.9 124.3,704.1 125.1,704.7 126.4,704.3 126.7,705.7 127.6,706.0 128.5,706.3 129.0,707.5 130.2,707.3 131.1,707.7 131.7,708.5 132.5,709.0 133.5,709.1 134.2,709.8 135.2,710.1 135.8,710.9 136.8,711.2 137.6,711.9 138.9,711.6 139.6,712.4 140.5,712.9 141.0,714.0 141.9,714.5 142.8,715.0 144.1,714.8 144.7,715.8 145.6,716.3 146.2,717.1 146.9,718.0 148.4,717.5 148.6,719.0 149.7,719.1 150.6,719.5 151.4,720.0 152.0,720.9 153.5,720.4 153.8,721.8 154.7,722.4 155.2,723.4 156.6,723.3 157.9,723.3 158.1,724.9 159.0,725.5 159.1,726.9 160.5,726.9 161.2,727.6 162.1,728.2 162.9,728.8 163.9,729.2 164.3,730.3 165.4,730.5 165.7,731.7 166.5,732.2 167.8,732.3 167.8,733.8 169.2,733.5 170.2,733.8 170.5,735.0 171.6,735.2 173.1,734.8 172.8,736.6 173.2,737.9 174.1,738.4 175.7,738.3 175.6,740.0 176.8,740.3 177.3,741.1 177.6,742.2 179.1,741.9 179.5,742.8 181.0,742.5 181.7,743.1 181.2,745.1 180.5,747.2 182.6,746.3 183.5,746.7 184.5,747.0 186.4,746.4 185.4,748.8 184.9,750.7 187.3,749.5 188.1,750.0 188.5,751.1 189.1,751.7 189.7,752.6 190.7,753.0 191.8,753.2 191.5,755.0 192.3,755.5 193.4,755.9 194.1,756.5 194.4,757.8 196.4,757.1 195.9,759.3 197.2,759.4 198.1,759.9 199.0,760.6 200.6,760.3 200.0,762.7 201.5,762.6 202.4,763.2 202.7,764.5 203.3,765.5 205.1,764.9 205.3,766.3 205.7,767.5 207.2,767.3 207.6,768.5 208.3,769.2 209.5,769.4 209.8,770.5 211.5,770.0 211.9,771.2 211.8,772.8 213.0,772.9 212.9,774.7 214.3,774.4 215.5,774.5 215.5,776.1 218.6,773.5 217.6,776.6 218.6,777.1 219.6,777.4 220.1,778.5 221.4,778.5 223.6,777.1 222.8,779.9 224.1,779.7 224.6,780.7 225.7,780.8 225.7,782.4 226.3,783.3 228.8,781.3 227.9,784.5 229.3,784.2 231.3,782.9 231.9,783.9 232.0,785.7 232.4,787.0 233.7,786.7 234.0,787.9 235.4,787.5 235.8,788.6 237.2,788.2 237.5,789.5 238.5,789.7 239.1,790.5 239.6,791.4 240.8,791.4 241.0,792.8 242.1,793.2 243.3,793.3 244.2,793.7 244.6,794.8 245.6,795.3 246.5,795.7 247.5,796.0 248.2,796.6 249.2,796.9 249.4,798.2 250.6,798.2 250.5,799.9 250.8,801.1 253.9,798.7 253.5,800.7 254.5,801.1 255.8,801.1 255.4,803.3 257.2,802.8 257.4,804.2 259.6,803.1 260.0,804.3 260.7,805.1 260.3,807.2 263.7,804.6 262.5,807.7 262.7,809.1 266.3,806.3 263.4,811.5 266.4,809.3 265.9,811.7 267.3,811.4 267.7,812.5 268.9,812.6 270.3,812.5 269.6,814.9 270.8,815.0 271.1,816.1 272.2,816.5 273.0,817.1 273.5,818.3 274.6,818.5 275.7,818.9 276.9,819.1 277.8,819.6 278.6,820.3 279.7,820.3 279.5,822.3 279.9,823.4 281.3,823.1 282.1,823.6 283.8,822.8 284.1,824.0 284.5,825.2 284.9,826.4 285.7,827.1 287.2,826.7 288.1,827.2 289.0,827.8 289.7,828.6 290.3,829.6 291.5,829.6 292.4,830.2 294.1,829.5 295.3,829.6 294.8,832.2 295.2,833.4 297.8,831.5 297.5,833.8 298.7,833.9 299.1,835.2 300.4,835.2 300.9,836.3 301.4,837.3 302.4,837.8 303.5,838.0 305.0,837.7 306.4,837.5 305.8,840.4 306.7,840.9 307.5,841.5 309.4,840.6 308.4,844.0 310.6,844.4" fill="none" stroke="#1a1a1a" stroke-width="1.3" stroke-linejoin="round"/>
<polyline points="74.6,695.0 75.5,695.0 76.5,695.2 77.2,696.0 78.3,696.1 79.2,696.3 80.3,696.2 81.3,696.4 82.1,697.2 83.1,697.5 84.1,697.5 85.0,697.8 85.9,698.2 86.8,698.5 87.6,698.8 88.6,698.4 89.5,698.5 90.3,698.9 91.3,698.1 92.2,698.4 93.0,698.9 93.8,699.3 94.6,699.7 95.8,699.2 96.2,700.5 97.2,700.7 98.2,701.1 99.1,701.6 99.7,702.5 100.0,703.8 101.5,703.7 101.9,704.8 102.5,705.8 103.5,706.4 104.1,707.3 104.6,708.3 105.6,708.9 106.5,709.6 106.4,711.0 107.4,711.5 107.6,712.7 108.8,713.3 109.4,714.2 110.7,714.8 110.5,716.1 111.0,717.1 111.8,717.8 112.7,718.5 113.0,719.6 113.1,720.6 113.5,721.5 113.3,722.6 114.2,723.2 114.7,724.0 115.1,724.9 116.4,725.3 115.6,726.8 116.5,727.4 117.1,728.2 117.5,729.0 118.2,729.7 117.6,731.0 118.8,731.5 118.3,732.8 118.7,733.6 118.7,734.6 119.6,735.3 120.0,736.1 120.7,736.8 120.5,737.9 121.4,738.5 122.2,739.2 121.5,740.7 122.2,741.5 122.2,742.7 124.2,742.9 122.0,745.1 124.8,745.0 124.6,746.3 125.0,747.2 126.1,747.9 126.7,748.8 126.2,750.2 126.7,751.1 127.7,751.8 127.3,753.2 128.3,753.8 127.8,755.1 128.4,755.9 129.5,756.5 129.3,757.7 130.1,758.4 131.1,759.1 130.3,760.5 131.3,761.3 132.0,762.1 131.9,763.2 132.6,764.0 132.4,765.2 133.4,765.9 133.5,766.8 133.5,767.9 134.6,768.4 133.5,769.9 135.6,770.1 136.3,770.8 135.2,772.4 136.0,773.1 137.3,773.6 137.7,774.4 137.5,775.6 138.5,776.3 138.6,777.4 138.7,778.5 140.5,778.7 139.3,780.5 141.6,780.4 141.3,781.8 142.0,782.6 141.8,784.0 143.2,784.3 144.1,785.0 143.6,786.6 145.0,786.9 144.4,788.4 145.5,788.9 146.1,789.8 147.4,790.2 146.7,791.7 146.6,792.9 147.9,793.5 147.8,794.8 146.2,796.7 148.1,797.0 148.4,798.0 150.1,798.2 149.8,799.5 149.9,800.6 151.4,801.0 151.6,801.9 152.4,802.5 153.4,803.1 152.4,804.7 152.7,805.6 153.3,806.3 154.8,806.6 155.3,807.4 155.1,808.6 155.6,809.4 157.4,809.6 157.2,810.7 157.8,811.5 157.2,813.1 157.9,813.9 159.2,814.3 159.8,815.2 160.4,816.0 160.9,816.9 160.5,818.4 160.6,819.6 165.5,817.6 162.4,820.7 162.4,821.9 162.6,823.0 163.4,823.6 164.1,824.4 166.3,824.1 165.9,825.6 167.9,825.4 166.1,827.9 169.3,826.9 167.4,829.5 168.9,829.6 169.1,830.6 169.2,831.8 170.4,832.0 171.4,832.5 171.2,833.8 171.5,834.9 173.2,834.9 174.3,835.4 173.9,837.0 174.5,837.9 176.5,837.6 175.9,839.5 174.9,841.5 176.9,841.3 179.3,840.7 179.1,842.3 179.5,843.3 179.7,844.5 181.1,844.6 182.1,845.1 181.7,846.7 182.6,847.2 182.6,848.5 184.7,848.1 183.9,850.0 182.5,852.4 186.2,850.6 184.2,853.6 187.6,852.0 187.6,853.3 188.2,854.1 189.3,854.4 190.2,854.9 189.8,856.5 189.2,858.4 190.1,859.0 192.8,858.1 193.7,858.7 194.2,859.7 193.7,861.5 196.2,860.8 196.7,861.7 196.4,863.4 197.4,863.8 197.9,864.8 198.5,865.7 198.9,866.7 200.5,866.6 200.2,868.2 199.4,870.3 201.5,869.7 203.0,869.6 204.2,869.8 203.2,872.1 204.3,872.4 203.8,874.3 205.4,874.2 207.5,873.7 205.1,877.4 207.6,876.4 208.7,876.8 210.1,876.8 208.6,879.7 212.0,877.6 211.5,879.4 212.9,879.4 212.2,881.5 213.0,882.1 214.8,881.6 216.9,880.8 215.5,883.7 216.5,884.1 216.2,885.7 219.3,884.1 219.3,885.5 217.5,888.7 220.3,887.3 219.8,889.3 221.0,889.5 222.6,889.3 223.8,889.6 224.1,890.7 224.7,891.5 224.9,892.8 225.9,893.2 226.0,894.5 227.4,894.3 227.1,896.0 229.9,894.4 228.1,897.7 230.7,896.2 230.5,898.1 230.3,900.1 234.1,897.4 234.2,898.8 233.2,901.7 234.3,902.0 233.8,904.2 236.4,902.6 238.3,901.8 238.4,903.1 238.4,904.5 238.6,905.7 239.3,906.3 240.1,906.8 237.9,910.6 240.1,909.8 242.3,908.9 243.1,909.7 244.1,910.1 245.3,910.3 245.9,911.2 249.4,909.0 247.9,912.0 248.7,912.6 248.4,914.3 244.8,919.6 248.4,917.1 250.3,916.6 251.8,916.4 250.5,919.2 252.9,918.0 253.3,919.1 256.4,917.2 254.4,921.0 256.5,920.2 255.5,923.0 258.5,921.1 257.0,924.4 260.1,922.5 259.9,924.2 260.9,924.7 262.7,923.9 260.3,928.6 262.9,926.8 265.1,925.5 263.4,929.2 266.5,926.9 266.9,927.9 265.8,930.9 267.3,930.6 266.9,933.0 270.6,929.5 269.2,933.3 272.3,930.7 270.7,934.8 273.7,932.4 273.5,934.5 273.9,935.8 274.5,936.5 274.4,938.4 277.6,935.6 278.2,936.4 278.2,938.1 277.6,940.7 278.5,941.2 279.8,941.0 283.1,938.1 283.1,939.7 284.2,939.9 283.7,942.4 284.1,943.5 284.3,945.1 287.9,941.7 286.0,946.0 286.3,947.2 288.6,945.5 289.3,946.2 290.7,945.9 291.2,946.7 291.7,947.6 291.9,949.2 294.1,947.7 294.1,949.6 296.0,948.6 295.0,951.9 300.4,945.5 297.4,952.1 297.7,953.7 301.1,950.2 301.1,952.4 301.1,954.3 302.5,954.2 301.7,957.5 302.7,957.9 306.3,953.7 307.4,953.8 307.2,956.2 307.5,957.8 308.6,958.1 309.3,958.9 309.0,961.6 311.4,955.9" fill="none" stroke="#1a1a1a" stroke-width="1.5" stroke-linejoin="round"/>
<text x="324" y="707.8" font-family="'Liberation Sans', Arial, Helvetica, sans-serif" font-size="19.3" font-weight="normal" text-anchor="start">Without PMA</text>
<text x="324" y="850.3" font-family="'Liberation Sans', Arial, Helvetica, sans-serif" font-size="19.3" font-weight="normal" text-anchor="start">Subthreshold PMA</text>
<text x="324" y="968.9" font-family="'Liberation Sans', Arial, Helvetica, sans-serif" font-size="19.3" font-weight="normal" text-anchor="start" textLength="102.3" lengthAdjust="spacingAndGlyphs">PMA 200 nM</text>
<polyline points="74.8,985.2 74.8,1020.2 108.8,1020.2" fill="none" stroke="#222" stroke-width="1.4"/>
<text x="72.5" y="1006.4" font-family="'Liberation Sans', Arial, Helvetica, sans-serif" font-size="13.3" font-weight="normal" text-anchor="end">10%</text>
<text x="75.5" y="1032.7" font-family="'Liberation Sans', Arial, Helvetica, sans-serif" font-size="13" font-weight="normal" text-anchor="start">1 min</text>
<text x="486" y="566.4" font-family="'Liberation Sans', Arial, Helvetica, sans-serif" font-size="41.8" font-weight="normal" text-anchor="start" stroke="#fff" stroke-width="0.9">D</text>
<text x="514" y="659" font-family="'Liberation Sans', Arial, Helvetica, sans-serif" font-size="19.5" font-weight="normal" text-anchor="start">Subthreshold PMA</text>
<line x1="593.5" y1="663.8" x2="593.5" y2="693" stroke="#222" stroke-width="1.4" stroke-linecap="butt"/>
<polyline points="584.5,682.7 593.5,693.5 603,682.7" fill="none" stroke="#222" stroke-width="1.4"/>
<polyline points="590.5,696.4 591.6,695.7 592.4,696.8 593.4,696.9 594.4,696.9 595.4,696.9 596.3,697.7 597.2,698.1 598.4,697.6 599.3,698.1 600.3,698.2 601.3,698.4 602.0,699.7 603.1,699.1 603.8,700.3 605.2,698.6 605.7,700.4 606.7,700.3 607.9,699.5 608.7,700.2 609.8,700.2 610.9,700.2 611.9,700.6 613.0,700.5 613.9,701.2 614.7,702.0 615.7,702.0 616.8,701.6 617.9,701.4 618.4,703.4 619.3,703.7 620.3,703.3 621.4,702.8 622.2,703.5 623.4,702.7 623.8,705.2 625.0,704.7 626.0,705.1 627.2,704.9 628.4,704.6 629.0,706.0 630.3,705.2 630.9,706.7 632.1,706.2 632.7,707.5 633.8,707.3 634.4,708.4 635.1,709.3 636.3,709.2 637.2,709.6 638.2,710.0 638.8,710.9 639.7,711.4 641.4,710.6 641.6,712.2 643.0,711.9 643.0,713.5 644.2,713.5 644.8,714.4 645.6,715.2 646.2,716.1 647.5,716.2 648.2,717.0 648.6,718.1 649.0,719.1 650.3,719.4 650.6,720.7 651.4,721.5 652.9,721.6 652.7,723.2 653.2,724.3 654.4,724.6 656.0,724.6 656.1,725.8 656.2,726.9 657.3,727.3 657.8,728.1 656.8,730.3 659.3,729.8 660.1,730.6 661.1,731.3 661.6,732.1 660.5,734.0 663.2,733.3 663.2,734.4 663.1,735.8 664.0,736.6 664.1,737.8 664.5,738.9 665.0,739.9 665.6,740.9 668.0,740.2 667.4,742.3 669.0,742.3 669.2,743.6 670.5,743.8 672.2,743.7 671.0,746.2 671.5,747.0 673.7,746.1 672.2,748.6 674.3,748.2 674.9,749.0 675.9,749.6 676.9,750.2 675.8,752.2 675.9,753.5 677.7,753.6 677.6,755.0 680.8,754.1 679.6,756.3 680.3,757.1 681.9,757.3 681.7,758.8 682.6,759.4 682.8,760.7 684.0,761.2 683.5,763.1 684.3,763.8 685.9,763.8 687.0,764.3 687.3,765.4 688.0,766.1 688.0,767.5 688.6,768.2 689.5,768.8 691.3,768.7 691.6,769.8 692.5,770.2 692.1,771.7 693.0,772.1 693.1,773.5 695.4,773.1 694.5,775.4 695.3,775.9 696.6,776.0 697.3,776.7 695.8,779.3 698.0,778.6 698.7,779.4 699.1,780.6 700.1,781.1 700.7,782.0 701.5,782.8 702.1,783.6 702.6,784.5 704.7,784.1 705.3,784.9 705.2,786.3 706.8,786.4 706.2,788.3 708.9,787.6 707.6,789.9 708.3,790.6 710.6,790.3 709.3,792.3 709.6,793.3 711.9,793.0 711.8,794.2 711.4,795.7 712.9,795.9 712.3,797.7 713.1,798.3 715.4,798.0 714.3,800.1 714.8,801.1 716.3,801.3 716.8,802.3 716.6,803.8 719.1,803.2 721.1,802.9 718.1,806.7 720.7,805.8 721.0,806.9 723.6,805.7 722.7,808.1 723.1,809.1 724.1,809.4 725.2,809.7 723.9,812.7 725.3,812.5 726.2,813.1 728.6,812.3 728.7,813.7 729.8,814.3 729.2,816.2 731.5,815.6 731.1,817.3 730.2,819.4 732.5,818.8 731.9,820.5 734.0,820.0 733.3,821.7 735.0,821.6 735.9,822.0 735.7,823.4 737.0,823.8 737.7,824.6 737.7,825.9 738.4,826.7 739.6,827.1 738.4,829.3 739.5,829.6 741.5,829.3 742.3,829.9 741.9,831.5 745.0,830.2 743.5,832.5 743.2,833.9 743.6,834.8 744.3,835.4 745.0,836.1 747.9,835.1 748.2,836.1 747.0,838.3 748.4,838.5 747.7,840.2 748.3,840.9 750.0,840.8 750.3,841.8 748.9,844.0 750.5,844.0 752.7,843.6 751.5,845.7 751.3,847.1 754.1,846.3 753.7,847.8 755.2,847.9 757.3,847.8 755.8,850.2 756.6,850.9 757.7,851.5 759.3,851.7 758.2,853.6 759.2,854.0 758.9,855.3 760.3,855.5 760.6,856.4 761.4,857.0 761.4,858.3 762.5,858.7 762.2,860.2 763.3,860.6 763.8,861.5 763.3,863.2 764.3,863.9 765.9,863.8 767.2,864.0 767.5,865.3 768.9,865.4 770.6,865.0 769.0,868.8 771.6,867.3 772.0,868.6 772.8,869.1 773.9,869.2 774.4,870.0 774.3,871.6 775.1,872.0 776.4,872.1 776.9,873.0 776.0,875.2 778.7,874.0 779.3,874.8 778.7,876.7 778.6,878.1 779.9,878.3 780.7,879.0 782.2,879.1 782.4,880.2 782.4,881.5 783.1,882.3 783.5,883.3 786.2,882.3 785.2,884.5 786.2,885.0 787.8,884.9 788.8,885.4 789.0,886.6 790.1,887.0 790.8,887.7 791.2,888.7 791.7,889.6 794.7,888.3 792.5,891.6 793.0,892.5 793.4,893.5 794.6,893.7 794.9,894.9 797.2,894.2 798.1,894.7 796.5,897.4 797.4,898.0 801.3,895.9 798.1,900.0 801.2,898.7 799.6,901.4 800.4,902.0 802.2,901.8 803.2,902.2 803.5,903.3 807.3,901.3 803.9,905.7 805.8,905.3 806.3,906.3 808.6,905.6 806.2,909.1 807.7,909.2 808.5,909.9 810.0,909.9 810.8,910.6 812.6,910.4 810.3,913.8 812.6,913.2 812.2,914.9 813.3,915.1 814.5,915.3 814.5,916.6 815.5,917.0 815.6,918.2 816.2,918.9 817.9,918.4 817.6,920.1 818.1,921.0 821.1,919.0 821.0,920.8 822.1,921.1 822.7,922.0 822.4,923.9 823.2,924.4 824.4,925.5" fill="none" stroke="#1a1a1a" stroke-width="1.5" stroke-linejoin="round"/>
<polyline points="590.5,696.3 591.5,696.2 592.4,696.7 593.5,696.5 594.3,697.4 595.1,698.6 596.4,697.4 597.1,698.7 598.3,697.8 599.3,697.8 600.2,698.5 601.1,699.1 602.3,698.4 603.2,698.7 604.2,698.6 604.8,700.1 605.9,699.6 606.8,700.0 607.6,700.5 608.6,700.5 609.6,701.1 610.8,700.4 611.7,701.1 612.9,700.6 613.8,701.8 614.8,701.5 615.8,701.9 616.7,702.3 617.9,701.5 618.8,701.9 619.5,702.7 620.5,702.8 621.4,703.1 622.9,701.1 622.8,704.6 624.2,703.7 625.1,704.6 626.0,705.2 627.5,704.1 628.2,705.2 628.8,706.4 630.1,705.7 630.8,706.9 631.8,707.0 632.9,707.0 633.9,707.2 634.8,707.7 635.6,708.3 636.1,709.5 636.8,710.4 638.8,709.0 639.0,710.6 640.0,711.0 640.9,711.5 641.2,712.9 642.6,712.6 643.4,713.0 643.7,714.3 644.7,714.6 645.1,715.8 646.1,716.2 647.7,716.0 647.8,717.5 648.6,718.1 649.3,718.7 649.6,720.0 650.0,721.2 652.2,720.7 652.7,721.8 653.2,722.8 653.4,724.0 654.9,724.2 655.6,724.9 656.9,725.1 656.2,726.9 657.2,727.4 658.1,727.9 657.7,729.6 658.5,730.4 659.2,731.3 660.8,731.5 661.0,732.5 661.7,733.1 661.3,734.5 662.5,734.9 663.3,735.7 664.3,736.4 663.8,738.0 665.5,738.2 665.1,739.8 665.4,741.0 667.7,740.5 668.6,741.2 668.6,742.7 671.4,741.2 670.3,744.1 671.1,744.9 670.7,746.5 671.4,747.0 672.6,747.1 672.8,748.1 673.8,748.6 674.5,749.3 674.9,750.3 675.0,751.4 676.6,751.7 676.7,753.0 677.9,753.5 680.0,753.4 678.9,755.5 679.0,756.7 679.9,757.4 680.8,758.2 681.6,758.9 682.6,759.5 682.4,761.1 683.9,761.2 683.8,762.8 684.7,763.4 685.9,763.8 686.6,764.7 687.9,764.8 687.7,766.4 687.8,767.7 689.1,767.7 693.0,765.9 689.7,770.0 691.4,769.9 692.2,770.5 692.4,771.5 692.0,772.9 693.4,773.3 694.3,774.0 694.2,775.5 696.4,774.9 696.6,776.0 696.5,777.4 696.6,778.5 698.5,778.2 698.9,779.2 700.4,779.4 701.4,779.9 701.3,781.5 702.6,781.8 700.7,784.8 703.1,784.1 702.9,785.6 703.1,786.8 705.0,786.4 706.3,786.9 706.8,787.8 707.2,788.8 707.1,790.3 707.6,791.1 709.0,791.3 708.9,792.6 709.7,793.3 711.3,793.4 710.1,795.5 710.8,796.1 711.9,796.7 712.8,797.2 713.3,798.2 714.2,798.9 715.2,799.4 716.5,799.8 716.9,800.9 716.8,802.2 720.6,800.6 717.4,804.5 721.1,802.8 719.0,806.0 719.2,807.2 720.3,807.6 721.6,807.7 722.5,808.2 723.4,808.8 722.5,811.2 724.1,810.9 725.4,810.9 725.1,812.7 726.7,812.7 727.3,813.6 727.9,814.6 728.9,815.1 729.7,815.8 729.7,817.1 730.8,817.5 731.9,818.0 733.2,818.2 733.0,819.6 733.9,820.1 734.3,820.9 734.8,821.7 736.4,821.7 735.3,823.7 738.4,822.6 740.3,822.5 738.1,825.6 739.4,826.0 738.7,827.8 738.9,828.9 740.2,829.2 739.9,830.6 741.2,830.8 742.4,831.1 742.6,832.1 742.7,833.2 743.2,834.0 744.0,834.5 744.5,835.2 744.3,836.6 746.0,836.6 746.2,837.7 748.0,837.5 745.8,840.5 747.4,840.4 751.3,838.7 748.4,842.0 751.6,840.8 749.5,843.6 751.0,843.6 751.0,844.8 752.2,845.2 752.2,846.4 754.3,846.2 751.3,849.6 753.6,849.1 753.7,850.3 755.9,850.2 758.2,849.8 759.0,850.5 757.6,852.9 759.2,852.9 759.5,853.8 759.0,855.3 758.2,857.1 760.2,856.7 761.6,856.9 761.9,857.9 762.3,858.9 761.1,861.1 763.5,860.5 763.7,861.6 764.1,862.5 766.5,862.2 763.7,864.7 765.9,864.8 766.6,865.6 767.1,866.5 767.6,867.4 768.5,868.1 767.8,869.4 770.0,869.6 766.9,872.3 768.6,872.6 769.0,873.6 769.3,874.8 768.6,876.7 772.2,875.3 771.2,877.3 772.1,877.8 770.9,880.1 774.1,879.0 773.7,880.8 774.4,881.6 775.8,881.8 776.9,882.3 777.3,883.2 779.2,882.9 778.9,884.3 778.2,886.1 780.9,885.1 782.7,884.9 779.7,888.4 782.0,887.9 781.5,889.4 784.4,888.5 784.7,889.6 784.3,891.0 783.4,892.8 783.9,893.7 788.2,891.9 786.3,894.4 787.4,894.8 789.1,894.8 785.2,898.8 787.5,898.2 789.8,897.7 789.2,899.2 788.5,901.0 790.7,900.4 792.1,900.5 792.2,901.7 793.3,902.1 792.9,903.7 792.6,905.5 795.9,903.4 794.9,905.8 795.7,906.3 796.0,907.4 798.3,906.3 798.0,907.9 797.7,909.6 797.7,910.9 798.9,910.9 803.5,907.3 802.4,909.8 799.8,914.1 801.8,913.2 802.7,913.7 803.6,914.1 806.4,912.1 807.6,912.1 804.1,917.6 808.2,914.2 806.9,917.1 808.5,916.9 809.7,917.1 810.3,918.0 809.5,920.6 810.7,920.8 811.1,922.0 813.1,921.2 814.4,921.2 814.3,922.9 815.6,922.9 815.7,924.3 815.8,925.7 817.6,925.0 817.8,926.0 818.9,926.2 820.2,926.2 819.9,928.2 821.9,927.7 821.3,930.0 823.0,929.9 824.5,929.9 822.2,933.6 824.9,932.5 825.7,931.9" fill="none" stroke="#1a1a1a" stroke-width="1.5" stroke-linejoin="round"/>
<text x="836" y="931.3" font-family="'Liberation Sans', Arial, Helvetica, sans-serif" font-size="18" font-weight="normal" text-anchor="start">AA 50 &#956;M</text>
<text x="836" y="951.1" font-family="'Liberation Sans', Arial, Helvetica, sans-serif" font-size="18" font-weight="normal" text-anchor="start" textLength="86" lengthAdjust="spacingAndGlyphs">BPA 25 &#956;M</text>
<polyline points="589.5,986.5 589.5,1023.2 623.6,1023.2" fill="none" stroke="#222" stroke-width="1.4"/>
<text x="586.5" y="1009.4" font-family="'Liberation Sans', Arial, Helvetica, sans-serif" font-size="13.3" font-weight="normal" text-anchor="end">10%</text>
<text x="590.2" y="1034" font-family="'Liberation Sans', Arial, Helvetica, sans-serif" font-size="13" font-weight="normal" text-anchor="start">1 min</text>
<text x="963.6" y="566" font-family="'Liberation Sans', Arial, Helvetica, sans-serif" font-size="42.2" font-weight="normal" text-anchor="start" stroke="#fff" stroke-width="0.9">E</text>
<line x1="1045.7" y1="579.4" x2="1045.7" y2="1031" stroke="#000" stroke-width="4.3" stroke-linecap="butt"/>
<line x1="1038" y1="1029.2" x2="1045.7" y2="1029.2" stroke="#000" stroke-width="3.8" stroke-linecap="butt"/>
<text x="1037.5" y="1034.2" font-family="'Liberation Sans', Arial, Helvetica, sans-serif" font-size="14" font-weight="bold" text-anchor="end">0</text>
<line x1="1038" y1="939.5" x2="1045.7" y2="939.5" stroke="#000" stroke-width="3.8" stroke-linecap="butt"/>
<text x="1037.5" y="944.5" font-family="'Liberation Sans', Arial, Helvetica, sans-serif" font-size="14" font-weight="bold" text-anchor="end">20</text>
<line x1="1038" y1="849.8" x2="1045.7" y2="849.8" stroke="#000" stroke-width="3.8" stroke-linecap="butt"/>
<text x="1037.5" y="854.8" font-family="'Liberation Sans', Arial, Helvetica, sans-serif" font-size="14" font-weight="bold" text-anchor="end">40</text>
<line x1="1038" y1="760.2" x2="1045.7" y2="760.2" stroke="#000" stroke-width="3.8" stroke-linecap="butt"/>
<text x="1037.5" y="765.2" font-family="'Liberation Sans', Arial, Helvetica, sans-serif" font-size="14" font-weight="bold" text-anchor="end">60</text>
<line x1="1038" y1="670.5" x2="1045.7" y2="670.5" stroke="#000" stroke-width="3.8" stroke-linecap="butt"/>
<text x="1037.5" y="675.5" font-family="'Liberation Sans', Arial, Helvetica, sans-serif" font-size="14" font-weight="bold" text-anchor="end">80</text>
<line x1="1038" y1="580.8" x2="1045.7" y2="580.8" stroke="#000" stroke-width="3.8" stroke-linecap="butt"/>
<text x="1037.5" y="585.8" font-family="'Liberation Sans', Arial, Helvetica, sans-serif" font-size="14" font-weight="bold" text-anchor="end">100</text>
<line x1="1044" y1="1029.2" x2="1719" y2="1029.2" stroke="#000" stroke-width="4.2" stroke-linecap="butt"/>
<line x1="1129.6" y1="636.9" x2="1129.6" y2="616.2" stroke="#000" stroke-width="1.6" stroke-linecap="butt"/>
<line x1="1102.3" y1="616.2" x2="1158.4" y2="616.2" stroke="#000" stroke-width="1.6" stroke-linecap="butt"/>
<polyline points="1073.4,1029.2 1073.4,636.9 1185.8,636.9 1185.8,1029.2" fill="none" stroke="#000" stroke-width="4.2" stroke-linejoin="miter"/>
<line x1="1129.6" y1="1029.2" x2="1129.6" y2="1038.3" stroke="#000" stroke-width="3.8" stroke-linecap="butt"/>
<line x1="1297.8" y1="851.2" x2="1297.8" y2="839.4" stroke="#000" stroke-width="1.6" stroke-linecap="butt"/>
<line x1="1270" y1="839.4" x2="1326.3" y2="839.4" stroke="#000" stroke-width="1.6" stroke-linecap="butt"/>
<polyline points="1242.5,1029.2 1242.5,851.2 1353,851.2 1353,1029.2" fill="none" stroke="#000" stroke-width="4.2" stroke-linejoin="miter"/>
<line x1="1297.8" y1="1029.2" x2="1297.8" y2="1038.3" stroke="#000" stroke-width="3.8" stroke-linecap="butt"/>
<line x1="1466" y1="674.6" x2="1466" y2="648.4" stroke="#000" stroke-width="1.6" stroke-linecap="butt"/>
<line x1="1437.5" y1="648.4" x2="1493.8" y2="648.4" stroke="#000" stroke-width="1.6" stroke-linecap="butt"/>
<polyline points="1410,1029.2 1410,674.6 1522.1,674.6 1522.1,1029.2" fill="none" stroke="#000" stroke-width="4.2" stroke-linejoin="miter"/>
<line x1="1466" y1="1029.2" x2="1466" y2="1038.3" stroke="#000" stroke-width="3.8" stroke-linecap="butt"/>
<line x1="1633.9" y1="660.2" x2="1633.9" y2="640.8" stroke="#000" stroke-width="1.6" stroke-linecap="butt"/>
<line x1="1605.5" y1="640.8" x2="1662.8" y2="640.8" stroke="#000" stroke-width="1.6" stroke-linecap="butt"/>
<polyline points="1577.4,1029.2 1577.4,660.2 1690.4,660.2 1690.4,1029.2" fill="none" stroke="#000" stroke-width="4.2" stroke-linejoin="miter"/>
<line x1="1633.9" y1="1029.2" x2="1633.9" y2="1038.3" stroke="#000" stroke-width="3.8" stroke-linecap="butt"/>
<text x="1466" y="651.8" font-family="'Liberation Sans', Arial, Helvetica, sans-serif" font-size="25" font-weight="normal" text-anchor="middle" textLength="34" lengthAdjust="spacingAndGlyphs">***</text>
<text x="1634" y="643.5" font-family="'Liberation Sans', Arial, Helvetica, sans-serif" font-size="25" font-weight="normal" text-anchor="middle" textLength="34" lengthAdjust="spacingAndGlyphs">***</text>
<text x="1130" y="1060.2" font-family="'Liberation Sans', Arial, Helvetica, sans-serif" font-size="24.6" font-weight="bold" text-anchor="middle">PMA</text>
<text x="1130" y="1088.3" font-family="'Liberation Sans', Arial, Helvetica, sans-serif" font-size="24.6" font-weight="bold" text-anchor="middle">200 nM</text>
<text x="1298" y="1060.2" font-family="'Liberation Sans', Arial, Helvetica, sans-serif" font-size="24.6" font-weight="bold" text-anchor="middle">Subthreshold</text>
<text x="1298" y="1088.3" font-family="'Liberation Sans', Arial, Helvetica, sans-serif" font-size="24.6" font-weight="bold" text-anchor="middle">PMA</text>
<text x="1465.4" y="1060.3" font-family="'Liberation Sans', Arial, Helvetica, sans-serif" font-size="24.4" font-weight="bold" text-anchor="middle">BPA 25 &#956;M</text>
<text x="1633.6" y="1060.3" font-family="'Liberation Sans', Arial, Helvetica, sans-serif" font-size="24.4" font-weight="bold" text-anchor="middle">AA 50 &#956;M</text>
<text x="1733.5" y="1057.7" font-family="'Liberation Sans', Arial, Helvetica, sans-serif" font-size="24" font-weight="normal" text-anchor="start"><tspan font-family="Liberation Serif, serif" font-size="26">&#956;</tspan><tspan font-weight="bold" font-size="25" dx="0.3">M</tspan></text>
<line x1="1411" y1="1075.6" x2="1693" y2="1075.6" stroke="#000" stroke-width="3.4" stroke-linecap="butt"/>
<line x1="1411" y1="1069" x2="1411" y2="1083" stroke="#000" stroke-width="3.6" stroke-linecap="butt"/>
<line x1="1693" y1="1069" x2="1693" y2="1083" stroke="#000" stroke-width="3.6" stroke-linecap="butt"/>
<text x="1551.7" y="1109" font-family="'Liberation Sans', Arial, Helvetica, sans-serif" font-size="24.3" font-weight="bold" text-anchor="middle">Subthreshold PMA</text>
<text x="998.5" y="806.4" font-family="'Liberation Sans', Arial, Helvetica, sans-serif" font-size="24.7" font-weight="normal" text-anchor="middle" transform="rotate(-90 998.5 806.4)" stroke="#000" stroke-width="0.6">Platelet Aggregation (%)</text></svg>
</body></html>
